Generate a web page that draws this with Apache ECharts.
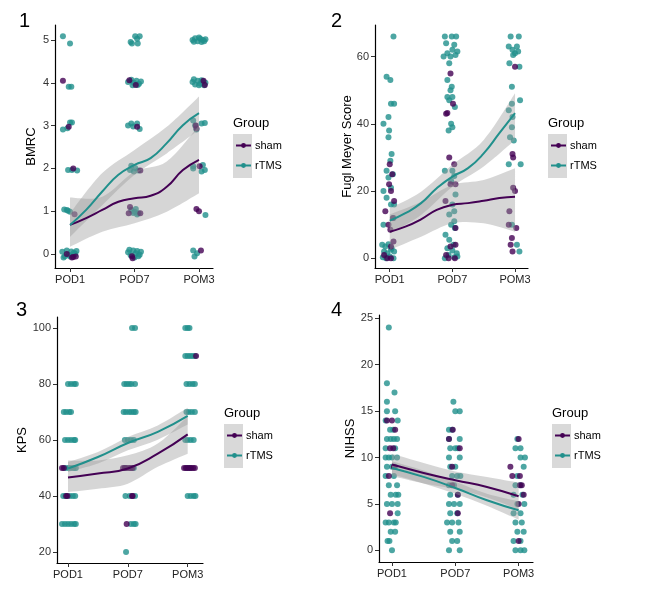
<!DOCTYPE html>
<html>
<head>
<meta charset="utf-8">
<script src="https://cdn.jsdelivr.net/npm/echarts@6/dist/echarts.min.js"></script>
<style>
  html, body { margin: 0; padding: 0; background: #fff; }
  #chart { width: 653px; height: 600px; }
</style>
</head>
<body>
<div id="chart"></div>
<script>
// 时间点
var categories = ['POD1', 'POD7', 'POM3'];

// 1 BMRC 散点 (x 含抖动)
var bmrcSham = [[0.89,4.05],[0.98,2.97],[1.05,2.0],[1.07,0.93],[0.95,0.0],[1.05,-0.07],[1.09,-0.06],[1.03,-0.08],
  [1.92,4.06],[2.02,3.95],[2.04,2.97],[2.09,1.95],[1.93,1.1],[1.91,0.95],[2.09,0.95],[1.96,-0.05],[1.97,-0.1],
  [3.07,4.05],[3.09,3.95],[2.96,2.93],[2.95,3.0],[3.01,2.05],[2.96,1.05],[3.0,1.0],[3.03,0.08]];
var bmrcRtms = [[0.89,5.09],[1.0,4.92],[0.98,3.91],[1.02,3.91],[0.89,2.91],[1.0,3.07],[1.03,3.07],[0.96,2.94],
  [0.97,1.96],[1.03,1.96],[1.11,1.95],[0.91,1.04],[0.95,1.03],[1.0,0.99],[0.97,1.01],
  [0.88,0.05],[0.92,-0.05],[0.95,0.08],[0.98,-0.02],[1.02,0.06],[1.06,0.03],[1.1,0.07],[0.9,-0.08],[1.0,-0.06],[1.08,0.0],
  [2.01,5.09],[2.08,5.09],[1.96,4.92],[2.05,4.92],[1.94,4.95],[2.04,5.03],
  [1.9,4.02],[1.95,4.07],[1.99,4.0],[2.03,4.05],[2.07,3.98],[2.1,4.03],[1.97,3.94],[2.05,3.95],
  [1.9,3.0],[1.95,3.05],[2.04,3.05],[2.08,2.92],[1.98,2.98],
  [1.95,2.06],[2.01,2.01],[1.93,1.96],[2.06,1.95],[1.99,1.93],
  [1.95,1.03],[2.0,0.99],[2.06,0.95],[2.04,0.92],[1.98,0.96],[2.02,1.05],
  [1.9,0.04],[1.94,-0.03],[1.98,0.08],[2.02,0.02],[2.06,-0.05],[2.1,0.05],[1.92,0.1],[2.04,0.07],[2.0,-0.08],[2.08,-0.02],
  [2.9,5.0],[2.94,5.04],[2.98,4.97],[3.02,5.03],[3.06,5.0],[3.1,5.02],[2.92,4.96],[3.0,5.06],[3.04,4.95],[3.08,4.97],
  [2.9,4.02],[2.94,3.96],[2.98,4.05],[3.02,3.98],[3.06,4.03],[3.1,4.0],[2.92,4.08],[3.0,3.94],[3.04,4.06],[3.08,3.94],
  [2.91,3.12],[2.94,3.0],[3.04,3.05],[3.09,3.06],[2.96,2.91],
  [2.91,2.05],[3.06,2.08],[3.09,1.96],[3.04,1.93],[2.91,2.0],
  [3.1,0.91],[2.91,0.08],[2.97,0.02],[2.93,-0.06]];

// 2 Fugl Meyer 散点
var fmsSham = [[1.0,28],[0.99,22],[1.02,20],[1.07,17],[0.93,14],[1.04,25],[1.01,8.5],[1.06,5],[1.02,3.5],[0.96,0],[1.02,0],[0.91,1],[1.05,12],[0.98,10],
  [1.97,55],[2.01,46],[1.9,43],[1.92,43.2],[1.95,30],[2.03,28],[1.97,22],[2.05,22],[1.89,17],[2.05,9],[1.97,3.5],[2.05,4],[1.9,1],[1.94,0],[2.04,0],
  [3.0,57],[2.96,31],[2.97,30],[2.97,21],[2.91,14],[2.9,10],[3.02,9],[2.95,6],[2.93,4],[2.96,2],[3.0,20]];
var fmsRtms = [[1.06,66],[0.95,54],[1.01,53],[1.02,46],[1.07,46],[0.98,42],[0.9,40],[0.99,38],[0.98,36],[1.03,31],[1.01,29],[0.95,26],[1.05,25],[0.98,24],
  [0.9,20],[1.02,21],[0.95,18],[1.02,16],[1.07,16],[0.9,10],[1.06,12],[0.88,4],[0.93,3.5],[0.98,4.2],[1.03,3],[0.91,2],[0.96,1.5],[1.02,2.5],[1.07,2],
  [0.89,0.3],[0.94,0],[1.0,0.5],[1.06,0],
  [1.88,66],[1.99,66],[2.06,66],[1.9,64],[2.03,63.5],[2.0,62],[1.92,61],[2.05,60.5],[1.97,60],[1.86,60],[1.95,58],[2.08,61.5],[1.92,53],[1.99,51],
  [1.97,50],[1.92,48],[2.0,48],[1.95,47],[2.04,45],[1.98,40],[1.94,38],[2.0,39],[1.88,26],[2.0,26],[2.03,24.5],[1.98,23],[2.05,19],[2.0,16],
  [2.03,14],[1.95,13],[2.03,11],[1.98,10],[2.04,9],[1.89,7],[1.95,5.5],[2.02,4],[1.92,3],[2.0,2.3],[2.07,1.5],[1.94,1],[2.03,0.3],[2.08,0.5],[1.88,0],
  [2.93,66],[3.06,66],[2.9,63],[3.03,63],[2.96,62],[3.0,61],[3.05,61.5],[2.97,60.5],[2.91,58],[3.07,57],[2.95,51],[2.95,46],[3.08,47],[2.9,44],
  [2.96,42],[2.95,39],[2.92,36],[2.98,35],[2.9,28],[3.09,28],[2.95,10],[3.03,4],[3.07,2]];

// 3 KPS 散点
var kpsSham = [[0.9,50],[0.93,50],[0.97,40],[0.99,40],
  [1.95,50],[1.98,50],[2.02,50],[2.05,50],[2.08,50],[1.92,50],[2.07,40],[2.08,40],[1.98,30],
  [2.94,50],[2.97,50],[3.0,50],[3.03,50],[3.06,50],[3.09,50],[3.12,50],[3.14,90]];
var kpsRtms = [[1.0,80],[1.05,80],[1.1,80],[1.13,80],[0.93,70],[0.97,70],[1.02,70],[1.05,70],
  [0.95,60],[1.0,60],[1.05,60],[1.1,60],[1.12,60],[0.95,50],[1.0,50],[1.04,50],[1.09,50],[1.13,50],
  [0.92,40],[0.96,40],[1.03,40],[1.08,40],[1.12,40],[0.9,30],[0.95,30],[1.0,30],[1.05,30],[1.1,30],[1.13,30],
  [2.07,100],[2.12,100],[1.94,80],[1.98,80],[2.02,80],[2.06,80],[2.12,80],
  [1.93,70],[1.97,70],[2.02,70],[2.06,70],[2.1,70],[2.13,70],[1.95,60],[2.0,60],[2.05,60],[2.1,60],
  [1.95,50],[2.1,50],[1.96,40],[2.03,40],[2.12,40],[2.05,30],[2.1,30],[2.13,30],[1.97,20],
  [2.96,100],[3.0,100],[3.03,100],[2.96,90],[3.0,90],[3.04,90],[3.08,90],[3.12,90],
  [2.98,80],[3.03,80],[3.08,80],[3.12,80],[2.98,70],[3.02,70],[3.07,70],[3.12,70],
  [2.96,60],[3.0,60],[3.05,60],[3.1,60],[2.99,50],[3.04,50],[3.0,40],[3.05,40],[3.1,40],[3.13,40]];

// 4 NIHSS 散点
var nihssSham = [[0.92,14],[1.0,14],[1.05,13],[0.97,11],[1.02,11],[0.95,8],[0.97,4],[1.03,9],
  [1.96,13],[1.9,12],[2.07,11],[1.95,9],[2.04,6],[2.04,4],[1.95,7],
  [3.0,12],[2.87,9],[2.9,8],[3.02,8],[3.02,7],[3.05,7],[3.08,6],[3.0,5],[3.0,1]];
var nihssRtms = [[0.95,24],[0.92,18],[1.04,17],[0.92,16],[0.92,15],[1.05,15],[0.9,14],[1.09,14],[0.97,13],[1.02,13],
  [0.92,12],[0.98,12],[1.03,12],[1.08,12],[0.9,11],[1.05,11],[0.9,10],[0.95,10],[1.0,10],[1.08,10],
  [0.92,9],[1.0,9],[1.05,9],[0.9,8],[1.03,8],[0.95,7],[1.08,7],[0.98,6],[1.06,6],[1.1,6],
  [0.92,5],[1.0,5],[1.09,5],[1.09,4],[0.9,3],[0.95,3],[1.03,3],[1.06,3],[0.98,2],[1.05,2],[0.93,1],[0.96,1],[1.0,0],
  [1.97,16],[2.0,15],[2.07,15],[1.9,13],[1.95,13],[1.9,12],[2.07,12],[1.92,11],[2.0,11],[2.04,11],[1.9,10],[2.07,10],
  [1.92,9],[2.0,9],[1.95,8],[2.03,8],[2.08,8],[1.9,7],[1.98,7],[1.92,6],[2.04,6],[1.9,5],[1.98,5],[2.07,5],
  [1.92,4],[2.03,4],[1.87,3],[1.95,3],[2.05,3],[1.92,2],[2.07,2],[1.95,1],[2.03,1],[1.9,0],[2.07,0],
  [2.98,12],[2.95,11],[3.03,11],[3.03,10],[3.1,10],[3.08,9],[2.98,8],[2.95,7],[3.03,7],[2.92,6],[3.06,6],
  [2.98,5],[3.09,5],[2.92,4],[3.03,4],[2.95,3],[3.05,3],[2.98,2],[3.08,2],[2.92,1],[3.03,1],[2.95,0],[3.03,0],[3.09,0]];

// 平滑曲线
var fitX9 = [1, 1.25, 1.5, 1.75, 2, 2.25, 2.5, 2.75, 3];
var fitX5 = [1, 1.5, 2, 2.5, 3];
var bmrcFitSham = [0.68, 0.84, 1.03, 1.22, 1.30, 1.36, 1.57, 1.96, 2.2];
var bmrcFitRtms = [0.68, 1.03, 1.46, 1.85, 2.08, 2.24, 2.59, 3.01, 3.29];
var fmsFitSham = [7.9, 9.4, 11.6, 14.4, 15.9, 16.4, 17.1, 17.9, 18.3];
var fmsFitRtms = [11.2, 13.4, 16.4, 20.8, 24.3, 26.8, 31.2, 37.2, 43.2];
var kpsFitSham = [46.6, 48.0, 49.8, 55.1, 62.0];
var kpsFitRtms = [49.8, 53.9, 58.9, 62.9, 68.6];
var nihssFitSham = [9.24, 8.34, 7.55, 6.83, 5.83];
var nihssFitRtms = [8.88, 7.91, 6.72, 5.39, 4.31];

// 置信区间 (x = fitX5)
var bmrcBandShamLo = [0.17, 0.52, 0.72, 0.99, 1.42];
var bmrcBandShamHi = [1.32, 1.34, 1.92, 2.16, 3.0];
var bmrcBandRtmsLo = [0.4, 1.14, 1.85, 2.35, 2.9];
var bmrcBandRtmsHi = [0.95, 1.89, 2.43, 2.97, 3.68];
var fmsBandShamLo = [2.5, 6.4, 10.4, 10.4, 7.9];
var fmsBandShamHi = [13, 16.8, 21.8, 23.3, 26.8];
var fmsBandRtmsLo = [7.4, 12.9, 21.3, 27.3, 35.2];
var fmsBandRtmsHi = [14.9, 19.8, 27.8, 35.2, 49.1];
var kpsBandShamLo = [41.4, 42.6, 44.4, 50.4, 55.1];
var kpsBandShamHi = [52.7, 52.7, 54.5, 58.7, 68.5];
var kpsBandRtmsLo = [48.6, 51.6, 56.3, 60.1, 65.5];
var kpsBandRtmsHi = [52.1, 55.7, 61.1, 65.2, 71.5];
var nihssBandShamLo = [8.0, 7.2, 6.6, 5.7, 4.4];
var nihssBandShamHi = [10.4, 9.4, 8.5, 7.9, 7.3];
var nihssBandRtmsLo = [8.2, 7.2, 6.1, 4.8, 3.3];
var nihssBandRtmsHi = [9.6, 8.6, 7.4, 6.1, 5.3];

var SHAM = '#440154';
var RTMS = '#21908C';
var BAND = 'rgba(153,153,153,0.4)';
var FONT = 'Liberation Sans, Arial, sans-serif';

var panels = [
  { tag: '1', tagPos: [19, 11], name: 'BMRC', grid: { left: 55, top: 25, width: 158, height: 243 }, x: [0.767, 3.217], y: [-0.327, 5.35], ticks: [0, 1, 2, 3, 4, 5], nameGap: 17,
    sham: bmrcSham, rtms: bmrcRtms, fitX: fitX9, fitSham: bmrcFitSham, fitRtms: bmrcFitRtms,
    bands: [[bmrcBandShamLo, bmrcBandShamHi], [bmrcBandRtmsLo, bmrcBandRtmsHi]], legend: [233, 117] },
  { tag: '2', tagPos: [331, 11], name: 'Fugl Meyer Score', grid: { left: 375, top: 25, width: 153, height: 243 }, x: [0.765, 3.207], y: [-2.9, 69.4], ticks: [0, 20, 40, 60], nameGap: 21,
    sham: fmsSham, rtms: fmsRtms, fitX: fitX9, fitSham: fmsFitSham, fitRtms: fmsFitRtms,
    bands: [[fmsBandShamLo, fmsBandShamHi], [fmsBandRtmsLo, fmsBandRtmsHi]], legend: [548, 117] },
  { tag: '3', tagPos: [16, 300], name: 'KPS', grid: { left: 57, top: 317, width: 146, height: 246 }, x: [0.816, 3.256], y: [16.07, 103.9], ticks: [20, 40, 60, 80, 100], nameGap: 28,
    sham: kpsSham, rtms: kpsRtms, fitX: fitX5, fitSham: kpsFitSham, fitRtms: kpsFitRtms,
    bands: [[kpsBandShamLo, kpsBandShamHi], [kpsBandRtmsLo, kpsBandRtmsHi]], legend: [224, 407] },
  { tag: '4', tagPos: [331, 300], name: 'NIHSS', grid: { left: 379, top: 315, width: 154, height: 247 }, x: [0.795, 3.227], y: [-1.26, 25.36], ticks: [0, 5, 10, 15, 20, 25], nameGap: 22,
    sham: nihssSham, rtms: nihssRtms, fitX: fitX5, fitSham: nihssFitSham, fitRtms: nihssFitRtms,
    bands: [[nihssBandShamLo, nihssBandShamHi], [nihssBandRtmsLo, nihssBandRtmsHi]], legend: [552, 407] }
];

function zip(xs, ys) {
  return xs.map(function (x, i) { return [x, ys[i]]; });
}

// Catmull-Rom 曲线转贝塞尔路径
function curve(pts) {
  var s = '';
  for (var i = 0; i < pts.length - 1; i++) {
    var p0 = pts[Math.max(i - 1, 0)], p1 = pts[i], p2 = pts[i + 1], p3 = pts[Math.min(i + 2, pts.length - 1)];
    var c1 = [p1[0] + (p2[0] - p0[0]) / 6, p1[1] + (p2[1] - p0[1]) / 6];
    var c2 = [p2[0] - (p3[0] - p1[0]) / 6, p2[1] - (p3[1] - p1[1]) / 6];
    s += 'C' + c1[0] + ',' + c1[1] + ' ' + c2[0] + ',' + c2[1] + ' ' + p2[0] + ',' + p2[1];
  }
  return s;
}

function renderBand(params, api) {
  if (params.dataIndexInside !== 0) return;
  var n = params.dataInsideLength;
  var up = [], lo = [];
  for (var i = 0; i < n; i++) {
    up.push(api.coord([api.value(0, i), api.value(2, i)]));
    lo.push(api.coord([api.value(0, i), api.value(1, i)]));
  }
  lo.reverse();
  var d = 'M' + up[0][0] + ',' + up[0][1] + curve(up) + 'L' + lo[0][0] + ',' + lo[0][1] + curve(lo) + 'Z';
  return { type: 'path', shape: { pathData: d }, style: { fill: BAND } };
}

var grids = [], xAxes = [], yAxes = [], series = [], titles = [], legends = [], graphics = [];

panels.forEach(function (p, k) {
  grids.push(p.grid);
  xAxes.push({
    type: 'value', gridIndex: k, min: p.x[0], max: p.x[1],
    splitLine: { show: false },
    axisLine: { onZero: false, lineStyle: { color: '#000', width: 1.2 } },
    axisTick: { customValues: [1, 2, 3], length: 4, lineStyle: { color: '#333' } },
    axisLabel: { customValues: [1, 2, 3], margin: 6, color: '#222', fontSize: 11, fontFamily: FONT,
      formatter: function (v) { return categories[Math.round(v) - 1]; } }
  });
  yAxes.push({
    type: 'value', gridIndex: k, min: p.y[0], max: p.y[1],
    name: p.name, nameLocation: 'middle', nameGap: p.nameGap, nameMoveOverlap: false,
    nameTextStyle: { fontSize: 13, color: '#000', fontFamily: FONT },
    splitLine: { show: false },
    axisLine: { onZero: false, lineStyle: { color: '#000', width: 1.2 } },
    axisTick: { customValues: p.ticks, length: 4, lineStyle: { color: '#333' } },
    axisLabel: { customValues: p.ticks, margin: 6, color: '#333', fontSize: 11, fontFamily: FONT }
  });

  // 平滑曲线
  [['sham', SHAM, p.fitSham], ['rTMS', RTMS, p.fitRtms]].forEach(function (s) {
    series.push({
      name: s[0], type: 'line', xAxisIndex: k, yAxisIndex: k, data: zip(p.fitX, s[2]),
      smooth: true, symbol: 'circle', showSymbol: false, z: 5, silent: true,
      itemStyle: { color: s[1] }, lineStyle: { color: s[1], width: 2 }
    });
  });
  // 置信带
  p.bands.forEach(function (b) {
    series.push({
      type: 'custom', xAxisIndex: k, yAxisIndex: k, z: 4, silent: true,
      data: fitX5.map(function (x, i) { return [x, b[0][i], b[1][i]]; }),
      encode: { x: 0, y: [1, 2] },
      renderItem: renderBand
    });
  });
  // 散点
  series.push({ name: 'rTMS', type: 'scatter', xAxisIndex: k, yAxisIndex: k, data: p.rtms,
    symbolSize: 6, z: 2, itemStyle: { color: RTMS } });
  series.push({ name: 'sham', type: 'scatter', xAxisIndex: k, yAxisIndex: k, data: p.sham,
    symbolSize: 6, z: 3, itemStyle: { color: SHAM } });

  // 面板编号
  titles.push({ text: p.tag, left: p.tagPos[0], top: p.tagPos[1], padding: 0,
    textStyle: { fontSize: 20, fontWeight: 'normal', color: '#000', fontFamily: FONT } });
  // 图例
  titles.push({ text: 'Group', left: p.legend[0], top: p.legend[1], padding: 0,
    textStyle: { fontSize: 13, fontWeight: 'normal', color: '#000', fontFamily: FONT } });
  legends.push({
    data: ['sham', 'rTMS'], orient: 'vertical', left: p.legend[0] + 2, top: p.legend[1] + 23,
    padding: 0, itemWidth: 15, itemHeight: 6, itemGap: 9, selectedMode: false,
    textStyle: { fontSize: 11, color: '#000', fontFamily: FONT, padding: [0, 0, 0, -1] }
  });
  graphics.push({ type: 'rect', left: p.legend[0], top: p.legend[1] + 17, z: 0,
    shape: { width: 19, height: 44 }, style: { fill: '#d9d9d9' } });
});

var myChart = echarts.init(document.getElementById('chart'));
myChart.setOption({
  animation: false,
  title: titles,
  grid: grids,
  xAxis: xAxes,
  yAxis: yAxes,
  legend: legends,
  graphic: graphics,
  series: series
});
</script>
</body>
</html>
